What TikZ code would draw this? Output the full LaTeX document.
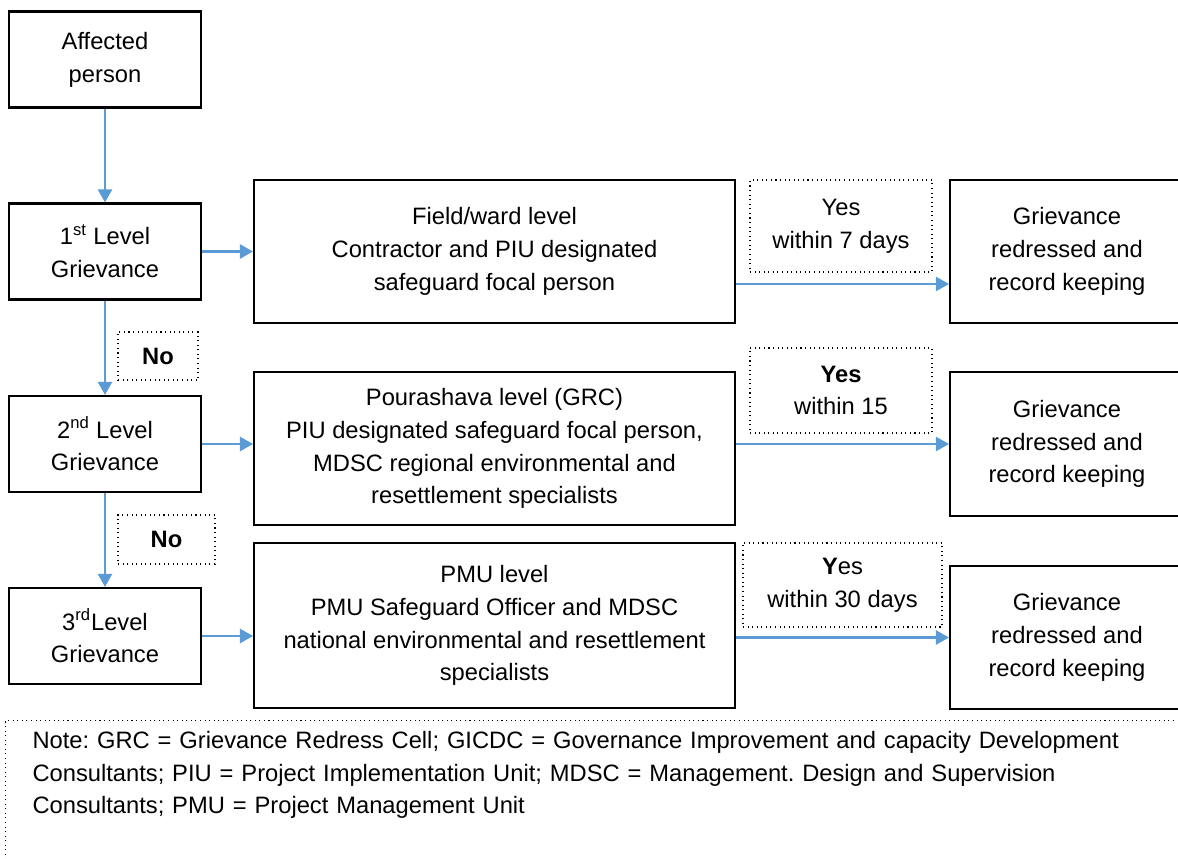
\documentclass[tikz,border=0pt]{standalone}
\usepackage{fontspec}
\setmainfont{Liberation Sans}
\usepackage{tikz}
\usetikzlibrary{arrows.meta,positioning}
\definecolor{flowblue}{RGB}{91,155,213}
\frenchspacing

\begin{document}
\begin{tikzpicture}[
x=0.02cm,y=-0.02cm,
font=\fontsize{13.5}{18.7}\selectfont,
box/.style={rectangle,draw,line width=1.2pt,align=center,inner sep=0pt},
lvl/.style={box,minimum width=3.84cm,minimum height=1.92cm},
body/.style={box,minimum width=9.62cm},
done/.style={box,minimum width=4.68cm,minimum height=2.87cm},
tag/.style={rectangle,draw,dotted,line width=0.6pt,align=center,inner sep=0pt},
note/.style={rectangle,draw,dotted,line width=0.6pt,align=left,text width=22.9cm,inner xsep=0.54cm,inner ysep=0.21cm,text depth=2.43cm},
arr/.style={-{Triangle[length=2.6mm,width=2.8mm]},line width=1.3pt,flowblue}
]
\useasboundingbox (0,0) rectangle (1178,859);

% levels on the left
\node[lvl] (aff) at (105,59.5) {Affected\\person};
\node[lvl] (l1) at (105,251.5) {1\textsuperscript{st} Level\\Grievance};
\node[lvl] (l2) at (105,444) {2\textsuperscript{nd} Level\\Grievance};
\node[lvl] (l3) at (105,636) {3\textsuperscript{rd}Level\\Grievance};

% who handles it
\node[body,minimum height=2.86cm] (field) at (494.5,251.5) {Field/ward level\\Contractor and PIU designated\\safeguard focal person};
\node[body,minimum height=3.06cm] (pour) at (494.5,448.5) {Pourashava level (GRC)\\PIU designated safeguard focal person,\\MDSC regional environmental and\\resettlement specialists};
\node[body,minimum height=3.3cm] (pmu) at (494.5,625.5) {PMU level\\PMU Safeguard Officer and MDSC\\national environmental and resettlement\\specialists};

% outcome
\node[done] (griev1) at (1067,251.5) {Grievance\\redressed and\\record keeping};
\node[done] (griev2) at (1067,444) {Grievance\\redressed and\\record keeping};
\node[done] (griev3) at (1067,637.5) {Grievance\\redressed and\\record keeping};

% dotted labels
\node[tag,minimum width=3.64cm,minimum height=1.84cm] (yes1) at (841,226) {Yes\\within 7 days};
\node[tag,minimum width=3.64cm,minimum height=1.7cm] (yes2) at (841,390.5) {\textbf{Yes}\\within 15};
\node[tag,minimum width=3.98cm,minimum height=1.68cm] (yes3) at (842.5,585) {\textbf{Y}es\\within 30 days};
\node[tag,minimum width=1.6cm,minimum height=0.96cm] (no1) at (158,356) {\textbf{No}};
\node[tag,minimum width=1.94cm,minimum height=0.98cm] (no2) at (166.5,539.5) {\textbf{No}};

\node[note,anchor=north west] (legend) at (5,720) {Note: GRC = Grievance Redress Cell; GICDC = Governance Improvement and capacity Development\\Consultants; PIU = Project Implementation Unit; MDSC = Management. Design and Supervision\\Consultants; PMU = Project Management Unit};

\draw[arr] (aff) -- (l1);
\draw[arr] (l1) -- (l2);
\draw[arr] (l2) -- (l3);
\draw[arr] (l1) -- (field);
\draw[arr] (l2.east) -- (l2.east -| pour.west);
\draw[arr] (l3.east) -- (l3.east -| pmu.west);
\draw[arr] ([yshift=-0.65cm]field.east) -- ([yshift=-0.65cm]field.east -| griev1.west);
\draw[arr] (griev2.west -| pour.east) -- (griev2.west);
\draw[arr] (griev3.west -| pmu.east) -- (griev3.west);
\end{tikzpicture}
\end{document}
